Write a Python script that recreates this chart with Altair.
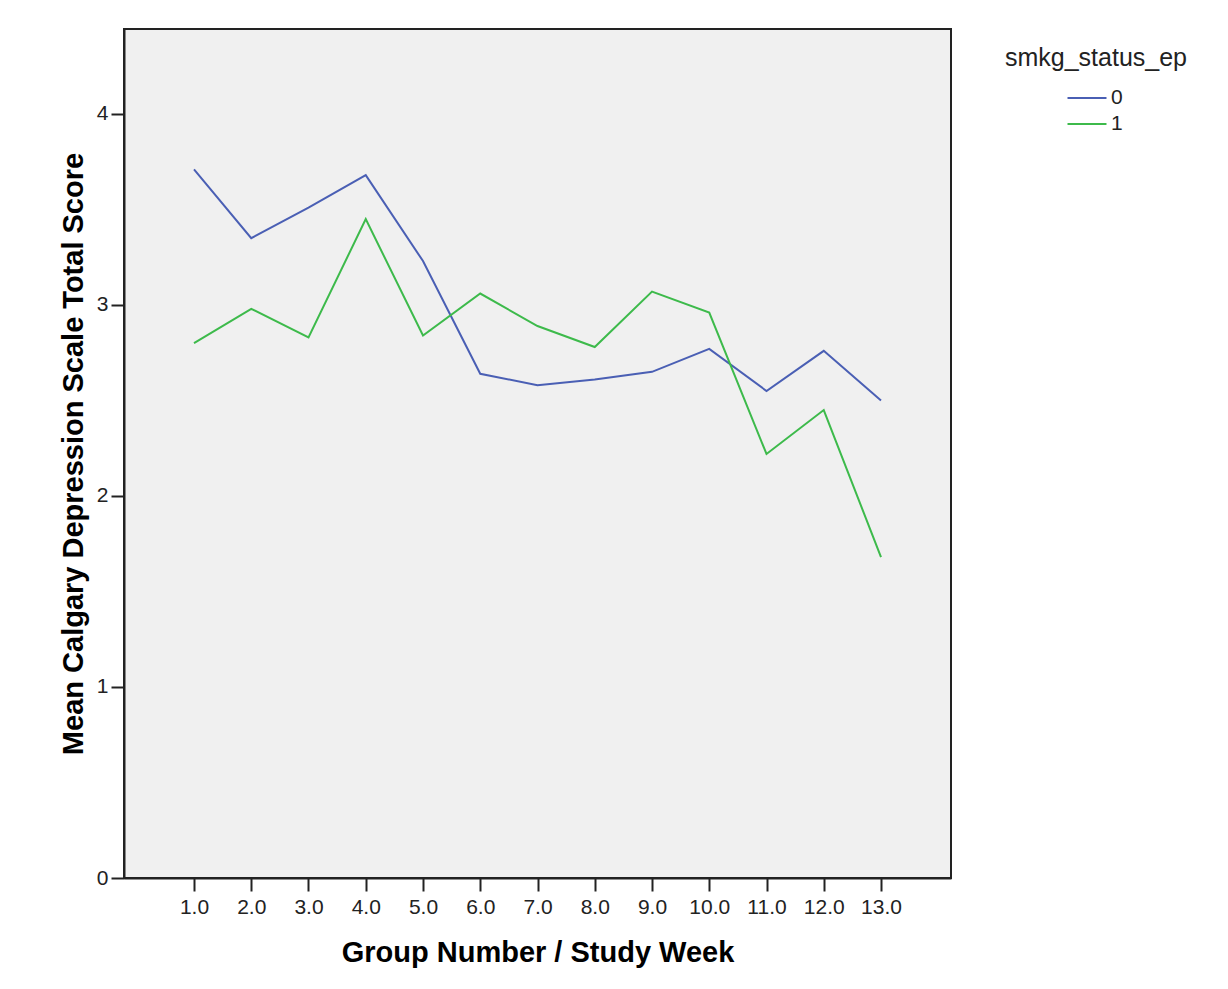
import altair as alt
import pandas as pd

weeks = list(range(1, 14))
status_0 = [3.71, 3.35, 3.51, 3.68, 3.23, 2.64, 2.58, 2.61, 2.65, 2.77, 2.55, 2.76, 2.50]
status_1 = [2.80, 2.98, 2.83, 3.45, 2.84, 3.06, 2.89, 2.78, 3.07, 2.96, 2.22, 2.45, 1.68]
groups = ["0", "1"]
colors = ["#4a5fb4", "#3dba4b"]

rows = []
for w, a, b in zip(weeks, status_0, status_1):
    rows.append({"week": w, "score": a, "status": groups[0]})
    rows.append({"week": w, "score": b, "status": groups[1]})
df = pd.DataFrame(rows)

FONT = "Liberation Sans"

lines = alt.Chart(df).mark_line(strokeWidth=2).encode(
    x=alt.X(
        "week:Q",
        scale=alt.Scale(domain=[-0.2227, 14.2227], nice=False, zero=False),
        axis=alt.Axis(
            values=weeks,
            format=".1f",
            title="Group Number / Study Week",
            grid=False,
            tickSize=13,
            labelPadding=5,
            titlePadding=21,
        ),
    ),
    y=alt.Y(
        "score:Q",
        scale=alt.Scale(domain=[0, 4.445], nice=False),
        axis=alt.Axis(
            values=[0, 1, 2, 3, 4],
            title="Mean Calgary Depression Scale Total Score",
            grid=False,
            tickSize=13,
            labelPadding=3,
            titlePadding=8,
        ),
    ),
    color=alt.Color(
        "status:N",
        scale=alt.Scale(domain=groups, range=colors),
        legend=alt.Legend(
            title=None,
            orient="none",
            legendX=952,
            legendY=58,
            symbolType="M-2,0H2",
            symbolSize=380,
            symbolStrokeWidth=2,
            labelFontSize=21,
            labelFont=FONT,
            labelColor="#222",
            labelOffset=13,
            rowPadding=5,
        ),
    ),
)

legend_title = alt.Chart(pd.DataFrame({"t": ["smkg_status_ep"]})).mark_text(
    font=FONT, fontSize=25, color="#222", align="center", baseline="middle"
).encode(x=alt.value(972), y=alt.value(29), text="t:N")

chart = alt.layer(lines, legend_title).properties(
    width=827,
    height=849,
    autosize=alt.AutoSizeParams(type="none"),
    padding={"left": 116, "top": 21, "right": 255, "bottom": 95},
    background="white",
).configure_view(
    fill="#f0f0f0", stroke="#222", strokeWidth=2
).configure_axis(
    domainColor="#222",
    domainWidth=2,
    tickColor="#222",
    tickWidth=2,
    labelFont=FONT,
    labelFontSize=21,
    labelColor="#222",
    titleFont=FONT,
    titleFontSize=29,
    titleFontWeight="bold",
    titleColor="#000",
)

chart.save("out.html", embed_options={"renderer": "svg", "actions": False})
